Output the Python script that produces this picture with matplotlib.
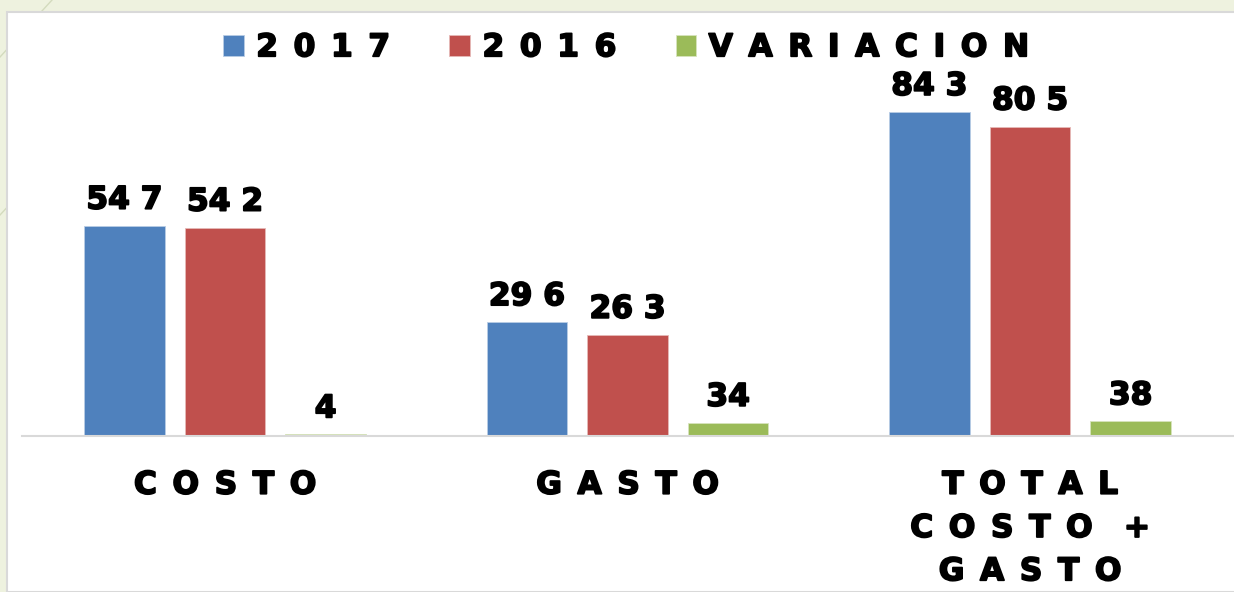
import matplotlib.pyplot as plt
import matplotlib.patches as mpatches
import matplotlib.patheffects as pe
from matplotlib.lines import Line2D
import numpy as np

# data
categorias = ['COSTO', 'GASTO', 'TOTAL\nCOSTO +\nGASTO']
series = ['2017', '2016', 'VARIACION']
valores_2017 = [547, 296, 843]
valores_2016 = [542, 263, 805]
variacion = [4, 34, 38]
etiquetas_2017 = ['54 7', '29 6', '84 3']
etiquetas_2016 = ['54 2', '26 3', '80 5']
etiquetas_var = ['4', '34', '38']

colores = ['#4f81bd', '#c0504d', '#9bbb59']


def espaciar(t):
    # wide letter spacing like the original slide
    lineas = []
    for linea in t.split('\n'):
        lineas.append('\u2003'.join('\u2002'.join(p) for p in linea.split(' ')))
    return '\n'.join(lineas)


W, H = 1234, 592
fig = plt.figure(figsize=(W/100, H/100), dpi=100)
fig.patch.set_facecolor('#eef2df')
# faint slide decoration lines
fig.add_artist(Line2D([0, 52/W], [1 - 57/H, 1], transform=fig.transFigure, color='#d3dbbd', lw=1, zorder=-10))
fig.add_artist(Line2D([0, 60/W], [1 - 215/H, 1 - 150/H], transform=fig.transFigure, color='#d3dbbd', lw=1, zorder=-10))
# white chart area on the slide
fig.patches.append(mpatches.Rectangle((7/W, 0), 1, 580/H, transform=fig.transFigure,
                                      facecolor='white', edgecolor='#d9d9d9', lw=1.5, zorder=-5))

ax = fig.add_axes([22/W, 156/H, (W-22)/W, 424/H])
ax.set_facecolor('none')

x = np.arange(len(categorias))
ancho = 0.2
b1 = ax.bar(x - 0.25, valores_2017, ancho, color=colores[0], label=espaciar(series[0]), edgecolor='#b9cde5', lw=0.6)
b2 = ax.bar(x, valores_2016, ancho, color=colores[1], label=espaciar(series[1]), edgecolor='#e6b9b8', lw=0.6)
b3 = ax.bar(x + 0.25, variacion, ancho, color=colores[2], label=espaciar(series[2]), edgecolor='#d7e4bd', lw=0.6)

grueso = [pe.withStroke(linewidth=1.3, foreground='black')]
fs = 22.5
fuente = dict(fontsize=fs, fontweight='bold', family='DejaVu Sans', path_effects=grueso)
ax.bar_label(b1, labels=etiquetas_2017, padding=8, **fuente)
ax.bar_label(b2, labels=etiquetas_2016, padding=8, **fuente)
ax.bar_label(b3, labels=etiquetas_var, padding=8, **fuente)

x0 = (22 - 225) / 402.5
ax.set_xlim(x0, x0 + (W - 22) / 402.5)
ax.set_ylim(0, 424 / 0.3843)

for s in ['top', 'right', 'left']:
    ax.spines[s].set_visible(False)
ax.spines['bottom'].set_color('#d9d9d9')
ax.spines['bottom'].set_linewidth(1.5)
ax.set_yticks([])
ax.set_xticks(x)
ax.set_xticklabels([espaciar(c) for c in categorias], fontsize=fs, fontweight='bold',
                   linespacing=1.62, path_effects=grueso)
ax.tick_params(axis='x', length=0, pad=25)

leg = ax.legend(loc='upper center', bbox_to_anchor=(0.5 + (626 - 22 - (W-22)/2) / (W-22), 1 + 10/424),
                ncol=3, frameon=False, prop=dict(size=fs, weight='bold'),
                handlelength=0.66, handleheight=0.66, handletextpad=0.4, columnspacing=1.9,
                borderaxespad=0.6)
for t in leg.get_texts():
    t.set_path_effects(grueso)

fig.savefig('out.png', dpi=100, facecolor=fig.get_facecolor())
